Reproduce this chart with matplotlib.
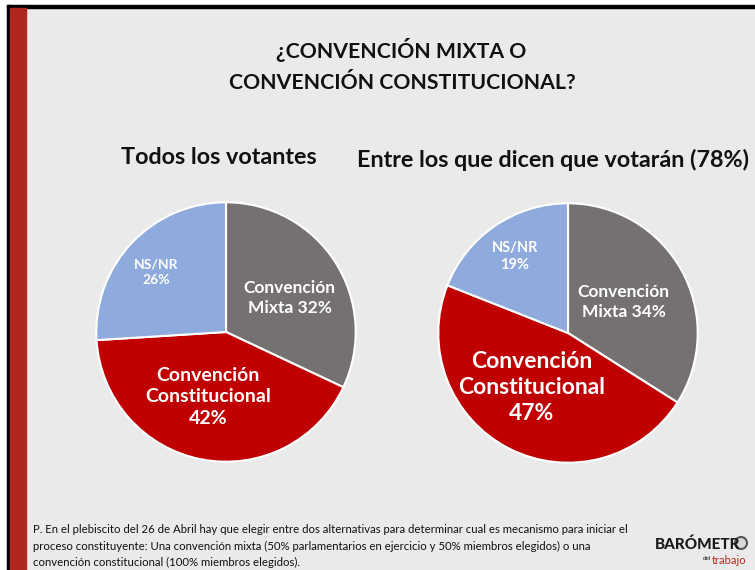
import matplotlib.pyplot as plt
from matplotlib.patches import Rectangle, Circle

# data
categories = ["Convención Mixta", "Convención Constitucional", "NS/NR"]
todos = [32, 42, 26]
votantes = [34, 47, 19]
colors = ["#767171", "#c00000", "#8faadc"]

plt.rcParams["font.family"] = ["Lato", "DejaVu Sans"]

W, H = 755, 570
fig = plt.figure(figsize=(W / 100, H / 100), dpi=100)
fig.patch.set_facecolor("white")

# slide background, black frame and red side bar
bg = fig.add_axes([0, 0, 1, 1])
bg.set_xlim(0, W)
bg.set_ylim(H, 0)
bg.axis("off")
bg.add_patch(Rectangle((7, 5), W, H, color="#eaeaea"))
bg.add_patch(Rectangle((7, 5), W, 3, color="black"))
bg.add_patch(Rectangle((7, 5), 3, H, color="black"))
bg.add_patch(Rectangle((10, 8), 16, H, color="#b3261e"))

bg.text(401, 50, "¿CONVENCIÓN MIXTA O", ha="center", va="center",
        fontsize=15.3, fontweight="bold", color="#111111")
bg.text(402, 83, "CONVENCIÓN CONSTITUCIONAL?", ha="center", va="center",
        fontsize=15.3, fontweight="bold", color="#111111")

bg.text(219, 158, "Todos los votantes", ha="center", va="center",
        fontsize=16.8, fontweight="bold", color="#111111")
bg.text(553, 160, "Entre los que dicen que votarán (78%)", ha="center", va="center",
        fontsize=16.8, fontweight="bold", color="#111111")

note = ("P. En el plebiscito del 26 de Abril hay que elegir entre dos alternativas para determinar cual es mecanismo para iniciar el\n"
        "proceso constituyente: Una convención mixta (50% parlamentarios en ejercicio y 50% miembros elegidos) o una\n"
        "convención constitucional (100% miembros elegidos).")
bg.text(33, 546, note, ha="left", va="center", fontsize=8.2,
        color="#111111", linespacing=1.6)

# logo
bg.text(655, 549, "BARÓMETR", ha="left", va="baseline", fontsize=11,
        fontweight="black", color="#1a1a1a")
bg.add_patch(Circle((741, 543), 6, facecolor="#d8d8d8", edgecolor="#555555", lw=1.5))
bg.text(711, 559, "del", ha="right", va="center", fontsize=4.5, color="#1a1a1a")
bg.text(712, 560, "trabajo", ha="left", va="center", fontsize=8,
        color="#c0261e")


def draw_pie(cx, cy, r, values, labels):
    ax = fig.add_axes([(cx - r) / W, (H - cy - r) / H, 2 * r / W, 2 * r / H])
    ax.pie(values, colors=colors, startangle=90, counterclock=False,
           radius=1, wedgeprops=dict(edgecolor="white", linewidth=1.5))
    ax.set_xlim(-1.01, 1.01)
    ax.set_ylim(-1.01, 1.01)
    ax.set_aspect("equal")
    ax.axis("off")
    for (x, y, txt, size) in labels:
        ax.text(x, y, txt, ha="center", va="center", fontsize=size,
                fontweight="bold", color="white", linespacing=1.3)
    return ax


draw_pie(226, 332, 131, todos, [
    (0.49, 0.26, "Convención\nMixta {}%".format(todos[0]), 12.5),
    (-0.14, -0.50, "Convención\nConstitucional\n{}%".format(todos[1]), 14),
    (-0.54, 0.46, "NS/NR\n{}%".format(todos[2]), 10),
])

draw_pie(568, 333, 131, votantes, [
    (0.43, 0.24, "Convención\nMixta {}%".format(votantes[0]), 12.5),
    (-0.28, -0.42, "Convención\nConstitucional\n{}%".format(votantes[1]), 16.5),
    (-0.41, 0.59, "NS/NR\n{}%".format(votantes[2]), 10.5),
])

fig.savefig("out.png", dpi=100, facecolor=fig.get_facecolor())
